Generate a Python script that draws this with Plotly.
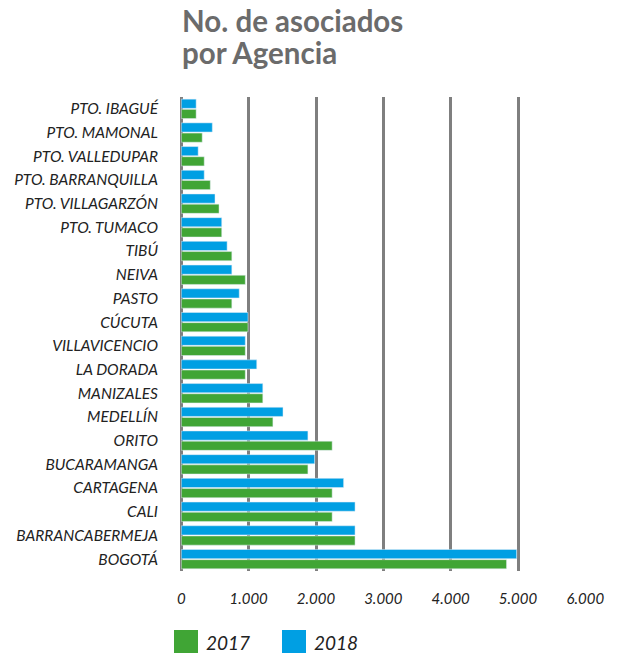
import plotly.graph_objects as go

# categorías de abajo hacia arriba (el eje y no se invierte)
agencias = ["BOGOTÁ", "BARRANCABERMEJA", "CALI", "CARTAGENA", "BUCARAMANGA", "ORITO",
            "MEDELLÍN", "MANIZALES", "LA DORADA", "VILLAVICENCIO", "CÚCUTA", "PASTO",
            "NEIVA", "TIBÚ", "PTO. TUMACO", "PTO. VILLAGARZÓN", "PTO. BARRANQUILLA",
            "PTO. VALLEDUPAR", "PTO. MAMONAL", "PTO. IBAGUÉ"]
asociados_2017 = [4830, 2580, 2240, 2240, 1880, 2240, 1360, 1210, 950, 950,
                  990, 750, 950, 750, 600, 560, 430, 340, 310, 220]
asociados_2018 = [4980, 2580, 2580, 2410, 1980, 1880, 1510, 1210, 1120, 950,
                  990, 860, 750, 680, 600, 500, 340, 250, 460, 220]
x_ticks = [0, 1000, 2000, 3000, 4000, 5000, 6000]
titulo = ["No. de asociados", "por Agencia"]

verde = "#40a535"
azul = "#009fe3"
gris = "#7f7f7f"

# la página deja 8px de margen arriba y a la izquierda
W, H = 613, 647
L, R, T, B = 173, 35, 89, 84

trace1 = go.Bar(y=agencias, x=asociados_2017, orientation="h", name="2017",
                marker_color=verde, showlegend=False)
trace2 = go.Bar(y=agencias, x=asociados_2018, orientation="h", name="2018",
                marker_color=azul, showlegend=False)

layout = go.Layout(
    width=W, height=H,
    margin=dict(l=L, r=R, t=T, b=B),
    paper_bgcolor="white", plot_bgcolor="white",
    font=dict(family="Lato", color="#222222"),
    separators=",.",
    barmode="group", bargap=0.14, bargroupgap=0.1,
    xaxis=dict(range=[-5, 6010], tickvals=x_ticks, tickformat=",.0f", automargin=False,
               showgrid=True, gridcolor=gris, gridwidth=2.5,
               zeroline=True, zerolinecolor=gris, zerolinewidth=2.5,
               showline=False, ticks="", ticklabelstandoff=17,
               tickfont=dict(size=15, style="italic", color="#222222")),
    yaxis=dict(showgrid=False, zeroline=False, showline=False, ticks="", automargin=False,
               ticklabelstandoff=22,
               tickfont=dict(size=15.5, style="italic", color="#222222")),
)

fig = go.Figure(data=[trace1, trace2], layout=layout)

pw = W - L - R
ph = H - T - B
bottom = H - B

# título en dos líneas, interlineado estrecho
for texto, yc in zip(titulo, [13, 44.5]):
    fig.add_annotation(text=texto, xref="paper", yref="paper",
                       x=(172 - L) / pw, y=(bottom - yc) / ph, xanchor="left", yanchor="middle",
                       showarrow=False,
                       font=dict(family="Lato", size=29.5, weight=700, color="#6b6b6b"))

# leyenda con cuadros grandes
for x0, color, texto in [(166, verde, "2017"), (274, azul, "2018")]:
    fig.add_shape(type="rect", xref="paper", yref="paper",
                  x0=(x0 - L) / pw, x1=(x0 + 24 - L) / pw,
                  y0=(bottom - 622) / ph, y1=(bottom - 645) / ph,
                  fillcolor=color, line_width=0)
    fig.add_annotation(text=texto, xref="paper", yref="paper", showarrow=False,
                       x=(x0 + 30 - L) / pw, y=(bottom - 634) / ph,
                       xanchor="left", yanchor="middle",
                       font=dict(size=19, style="italic", color="#222222"))

fig.write_html("out.html")
